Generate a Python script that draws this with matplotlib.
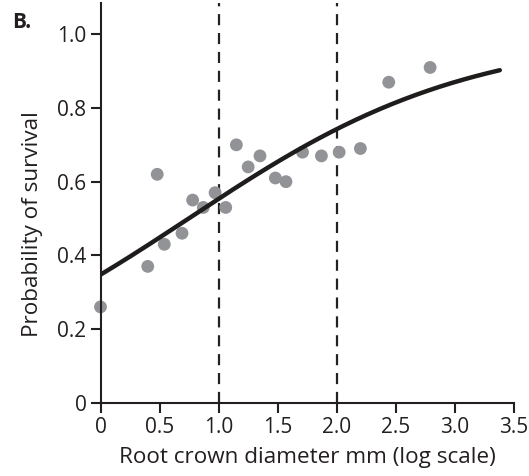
import numpy as np
import matplotlib
matplotlib.use('Agg')
import matplotlib.pyplot as plt

plt.rcParams['font.family'] = ['Open Sans', 'DejaVu Sans']

# root crown diameter (mm, log scale) and observed survival
diameter = [0.0, 0.40, 0.48, 0.54, 0.69, 0.78, 0.87, 0.97, 1.06, 1.15,
            1.25, 1.35, 1.48, 1.57, 1.71, 1.87, 2.02, 2.20, 2.44, 2.79]
survival = [0.26, 0.37, 0.62, 0.43, 0.46, 0.55, 0.53, 0.57, 0.53, 0.70,
            0.64, 0.67, 0.61, 0.60, 0.68, 0.67, 0.68, 0.69, 0.87, 0.91]

# logistic fit, coefficients
fit_intercept = -0.63
fit_slope = 0.845
fit_range = [0.0, 3.38]

# thresholds marked with dashed lines
thresholds = [1.0, 2.0]

xticks = [0, 0.5, 1.0, 1.5, 2.0, 2.5, 3.0, 3.5]
xticklabels = ['0', '0.5', '1.0', '1.5', '2.0', '2.5', '3.0', '3.5']
yticks = [0, 0.2, 0.4, 0.6, 0.8, 1.0]
yticklabels = ['0', '0.2', '0.4', '0.6', '0.8', '1.0']

fig = plt.figure(figsize=(5.29, 4.76), dpi=100)
ax = fig.add_axes([0.19, 0.154, 0.7816, 0.8397])

for t in thresholds:
    ax.axvline(t, color='#222222', lw=1.6, ls=(0, (5, 3.5)), zorder=1)

ax.scatter(diameter, survival, s=85, color='#929396', edgecolors='none',
           zorder=2, clip_on=False)

xs = np.linspace(fit_range[0], fit_range[1], 200)
ys = 1 / (1 + np.exp(-(fit_intercept + fit_slope * xs)))
ax.plot(xs, ys, color='#1f1c1c', lw=3.2, solid_capstyle='round', zorder=3)

ax.set_xlim(0, 3.5)
ax.set_ylim(0, 1.085)
ax.set_xticks(xticks)
ax.set_xticklabels(xticklabels)
ax.set_yticks(yticks)
ax.set_yticklabels(yticklabels)

for side in ['top', 'right']:
    ax.spines[side].set_visible(False)
for side in ['left', 'bottom']:
    ax.spines[side].set_linewidth(1.5)
    ax.spines[side].set_color('#231f20')

ax.tick_params(direction='out', length=7, width=1.5, color='#231f20',
               labelsize=15, labelcolor='#231f20', pad=3)

ax.set_xlabel('Root crown diameter mm (log scale)', fontsize=16.2,
              color='#231f20', labelpad=7)
ax.set_ylabel('Probability of survival', fontsize=16.2, color='#231f20')
ax.yaxis.set_label_coords(-0.139, 0.447)

fig.text(0.022, 0.975, 'B.', fontsize=15, fontweight='bold', color='#231f20',
         va='top', ha='left')

fig.savefig('out.png', dpi=100)
